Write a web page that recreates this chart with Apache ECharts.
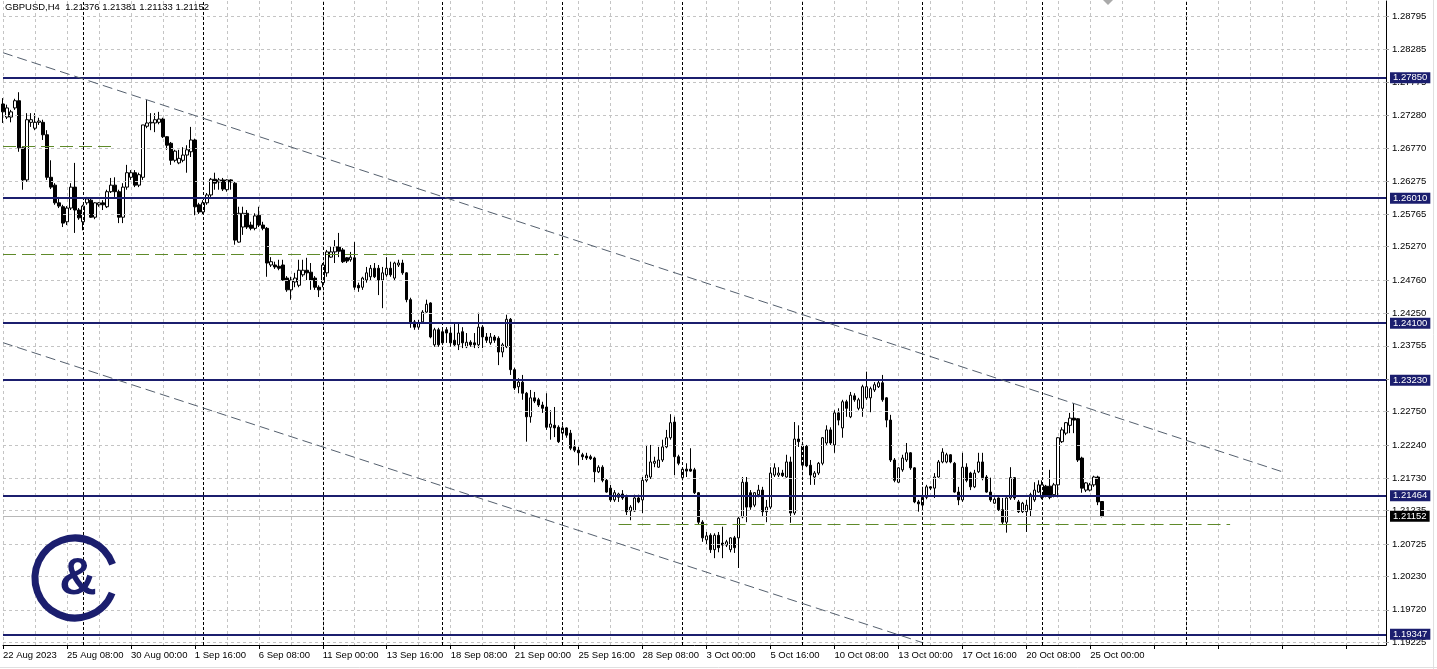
<!DOCTYPE html>
<html><head><meta charset="utf-8">
<script src="https://cdn.jsdelivr.net/npm/echarts@6/dist/echarts.min.js"></script>
<style>html,body{margin:0;padding:0;background:#fff;overflow:hidden}#c{width:1437px;height:669px}</style>
</head><body><div id="c"></div>
<script>
const headerText = 'GBPUSD,H4  1.21376 1.21381 1.21133 1.21152';
const xTickLabels = ['22 Aug 2023','25 Aug 08:00','30 Aug 00:00','1 Sep 16:00','6 Sep 08:00','11 Sep 00:00','13 Sep 16:00','18 Sep 08:00','21 Sep 00:00','25 Sep 16:00','28 Sep 08:00','3 Oct 00:00','5 Oct 16:00','10 Oct 08:00','13 Oct 00:00','17 Oct 16:00','20 Oct 08:00','25 Oct 00:00'];
const yTicks = [1.28795,1.28285,1.27775,1.27280,1.26770,1.26275,1.25765,1.25270,1.24760,1.24250,1.23755,1.23245,1.22750,1.22240,1.21730,1.21235,1.20725,1.20230,1.19720,1.19225];
const openP = [1.2745,1.2725,1.2725,1.2739,1.2750,1.2678,1.2629,1.2717,1.2708,1.2717,1.2717,1.2698,1.2633,1.2621,1.2594,1.2588,1.2565,1.2586,1.2618,1.2583,
1.2565,1.2594,1.2598,1.2572,1.2591,1.2594,1.2588,1.2611,1.2621,1.2611,1.2572,1.2618,1.2633,1.2640,1.2621,1.2633,1.2711,1.2716,1.2716,1.2717,
1.2722,1.2695,1.2685,1.2659,1.2655,1.2659,1.2667,1.2672,1.2690,1.2591,1.2580,1.2594,1.2606,1.2630,1.2626,1.2629,1.2614,1.2629,1.2624,1.2534,
1.2557,1.2578,1.2560,1.2555,1.2575,1.2560,1.2555,1.2499,1.2499,1.2497,1.2499,1.2479,1.2461,1.2473,1.2468,1.2484,1.2491,1.2488,1.2479,1.2465,
1.2472,1.2487,1.2511,1.2519,1.2527,1.2522,1.2510,1.2507,1.2510,1.2468,1.2465,1.2476,1.2481,1.2494,1.2494,1.2476,1.2484,1.2494,1.2479,1.2499,
1.2502,1.2487,1.2446,1.2412,1.2404,1.2412,1.2427,1.2441,1.2377,1.2400,1.2397,1.2400,1.2395,1.2384,1.2377,1.2397,1.2374,1.2381,1.2380,1.2377,
1.2404,1.2389,1.2380,1.2389,1.2387,1.2366,1.2374,1.2416,1.2339,1.2313,1.2320,1.2303,1.2267,1.2296,1.2293,1.2285,1.2282,1.2251,1.2254,1.2251,
1.2242,1.2250,1.2242,1.2221,1.2216,1.2209,1.2207,1.2206,1.2204,1.2183,1.2190,1.2170,1.2158,1.2140,1.2144,1.2149,1.2144,1.2123,1.2123,1.2143,
1.2140,1.2170,1.2175,1.2196,1.2190,1.2201,1.2221,1.2235,1.2259,1.2206,1.2174,1.2187,1.2187,1.2186,1.2151,1.2106,1.2079,1.2086,1.2064,1.2086,
1.2074,1.2071,1.2064,1.2082,1.2082,1.2114,1.2167,1.2151,1.2132,1.2148,1.2155,1.2122,1.2129,1.2178,1.2178,1.2181,1.2175,1.2198,1.2120,1.2233,
1.2193,1.2222,1.2193,1.2175,1.2181,1.2196,1.2227,1.2247,1.2224,1.2273,1.2250,1.2290,1.2267,1.2299,1.2280,1.2280,1.2296,1.2296,1.2308,1.2313,
1.2319,1.2296,1.2262,1.2201,1.2167,1.2186,1.2201,1.2212,1.2189,1.2137,1.2132,1.2144,1.2160,1.2158,1.2175,1.2198,1.2198,1.2209,1.2196,1.2152,
1.2140,1.2190,1.2181,1.2160,1.2183,1.2198,1.2175,1.2152,1.2135,1.2143,1.2125,1.2106,1.2143,1.2174,1.2137,1.2122,1.2122,1.2125,1.2140,1.2152,
1.2144,1.2161,1.2161,1.2148,1.2163,1.2229,1.2242,1.2254,1.2265,1.2264,1.2204,1.2155,1.2155,1.2163,1.2175,1.21376];
const highP = [1.2754,1.2744,1.2736,1.2753,1.2763,1.2679,1.2731,1.2731,1.2731,1.2724,1.2721,1.2705,1.2659,1.2624,1.2603,1.2591,1.2589,1.2624,1.2655,1.2586,
1.2591,1.2603,1.2601,1.2595,1.2595,1.2598,1.2614,1.2632,1.2633,1.2614,1.2624,1.2652,1.2644,1.2644,1.2640,1.2713,1.2751,1.2731,1.2731,1.2733,
1.2724,1.2696,1.2687,1.2675,1.2675,1.2679,1.2682,1.2710,1.2692,1.2594,1.2598,1.2609,1.2632,1.2640,1.2632,1.2632,1.2630,1.2630,1.2626,1.2588,
1.2588,1.2583,1.2565,1.2578,1.2588,1.2565,1.2557,1.2511,1.2504,1.2507,1.2507,1.2482,1.2481,1.2487,1.2507,1.2507,1.2510,1.2502,1.2482,1.2468,
1.2502,1.2522,1.2527,1.2537,1.2548,1.2525,1.2511,1.2519,1.2534,1.2472,1.2481,1.2496,1.2499,1.2502,1.2499,1.2496,1.2511,1.2504,1.2504,1.2507,
1.2507,1.2488,1.2449,1.2415,1.2415,1.2430,1.2446,1.2442,1.2403,1.2403,1.2403,1.2404,1.2404,1.2410,1.2410,1.2404,1.2395,1.2384,1.2395,1.2426,
1.2407,1.2395,1.2395,1.2392,1.2390,1.2380,1.2423,1.2418,1.2342,1.2326,1.2331,1.2305,1.2308,1.2305,1.2296,1.2290,1.2303,1.2277,1.2282,1.2254,
1.2254,1.2251,1.2247,1.2232,1.2221,1.2212,1.2212,1.2209,1.2206,1.2193,1.2193,1.2172,1.2163,1.2155,1.2151,1.2155,1.2148,1.2132,1.2148,1.2148,
1.2175,1.2224,1.2224,1.2206,1.2221,1.2232,1.2247,1.2271,1.2267,1.2209,1.2190,1.2196,1.2219,1.2189,1.2152,1.2109,1.2091,1.2089,1.2089,1.2091,
1.2099,1.2079,1.2083,1.2085,1.2114,1.2175,1.2175,1.2155,1.2152,1.2163,1.2160,1.2140,1.2190,1.2196,1.2190,1.2186,1.2209,1.2206,1.2259,1.2254,
1.2227,1.2224,1.2201,1.2184,1.2198,1.2236,1.2254,1.2251,1.2277,1.2280,1.2293,1.2293,1.2305,1.2303,1.2296,1.2316,1.2336,1.2313,1.2320,1.2323,
1.2331,1.2297,1.2270,1.2204,1.2190,1.2209,1.2227,1.2213,1.2190,1.2140,1.2160,1.2163,1.2161,1.2181,1.2201,1.2219,1.2212,1.2210,1.2198,1.2160,
1.2212,1.2196,1.2183,1.2186,1.2212,1.2212,1.2178,1.2174,1.2144,1.2144,1.2143,1.2144,1.2190,1.2175,1.2140,1.2137,1.2140,1.2151,1.2167,1.2170,
1.2170,1.2163,1.2186,1.2166,1.2236,1.2251,1.2259,1.2273,1.2288,1.2265,1.2206,1.2167,1.2166,1.2177,1.2177,1.21381];
const lowP = [1.2716,1.2722,1.2717,1.2736,1.2672,1.2614,1.2626,1.2710,1.2705,1.2713,1.2690,1.2629,1.2615,1.2591,1.2586,1.2557,1.2560,1.2583,1.2548,1.2568,
1.2552,1.2591,1.2571,1.2569,1.2588,1.2583,1.2586,1.2609,1.2603,1.2563,1.2563,1.2614,1.2629,1.2618,1.2618,1.2629,1.2708,1.2705,1.2702,1.2714,
1.2693,1.2675,1.2652,1.2656,1.2653,1.2656,1.2640,1.2664,1.2575,1.2577,1.2577,1.2591,1.2603,1.2614,1.2614,1.2612,1.2611,1.2614,1.2530,1.2533,
1.2545,1.2554,1.2552,1.2552,1.2557,1.2552,1.2481,1.2496,1.2493,1.2491,1.2475,1.2458,1.2446,1.2465,1.2465,1.2481,1.2476,1.2461,1.2461,1.2450,
1.2465,1.2481,1.2510,1.2502,1.2511,1.2502,1.2502,1.2504,1.2461,1.2458,1.2461,1.2472,1.2476,1.2479,1.2453,1.2433,1.2481,1.2481,1.2476,1.2496,
1.2484,1.2442,1.2403,1.2400,1.2400,1.2410,1.2426,1.2387,1.2374,1.2374,1.2377,1.2380,1.2374,1.2374,1.2369,1.2372,1.2372,1.2374,1.2372,1.2372,
1.2372,1.2380,1.2377,1.2380,1.2346,1.2358,1.2372,1.2331,1.2308,1.2303,1.2293,1.2229,1.2258,1.2288,1.2282,1.2273,1.2247,1.2232,1.2236,1.2227,
1.2236,1.2235,1.2216,1.2213,1.2193,1.2201,1.2201,1.2201,1.2167,1.2181,1.2167,1.2151,1.2137,1.2137,1.2137,1.2140,1.2117,1.2109,1.2122,1.2135,
1.2120,1.2167,1.2172,1.2190,1.2189,1.2198,1.2219,1.2232,1.2178,1.2193,1.2170,1.2175,1.2183,1.2149,1.2103,1.2076,1.2071,1.2059,1.2051,1.2060,
1.2051,1.2068,1.2060,1.2059,1.2036,1.2112,1.2106,1.2125,1.2129,1.2144,1.2114,1.2106,1.2126,1.2175,1.2175,1.2175,1.2174,1.2105,1.2117,1.2221,
1.2190,1.2190,1.2163,1.2163,1.2178,1.2193,1.2224,1.2224,1.2212,1.2254,1.2235,1.2267,1.2265,1.2290,1.2277,1.2267,1.2293,1.2274,1.2305,1.2311,
1.2290,1.2251,1.2198,1.2167,1.2166,1.2183,1.2198,1.2186,1.2135,1.2122,1.2129,1.2141,1.2155,1.2143,1.2174,1.2196,1.2196,1.2196,1.2151,1.2132,
1.2137,1.2167,1.2155,1.2158,1.2181,1.2170,1.2151,1.2137,1.2134,1.2123,1.2102,1.2090,1.2140,1.2140,1.2120,1.2120,1.2091,1.2114,1.2137,1.2151,
1.2141,1.2144,1.2141,1.2144,1.2144,1.2227,1.2239,1.2242,1.2242,1.2198,1.2151,1.2152,1.2153,1.2160,1.2132,1.21133];
const closeP = [1.2733,1.2739,1.2733,1.2750,1.2678,1.2629,1.2721,1.2721,1.2717,1.2719,1.2698,1.2633,1.2618,1.2594,1.2589,1.2563,1.2586,1.2618,1.2583,1.2571,
1.2589,1.2600,1.2572,1.2594,1.2594,1.2591,1.2611,1.2621,1.2611,1.2572,1.2618,1.2640,1.2640,1.2621,1.2637,1.2713,1.2716,1.2717,1.2721,1.2722,
1.2695,1.2682,1.2659,1.2673,1.2662,1.2667,1.2675,1.2690,1.2588,1.2580,1.2594,1.2606,1.2630,1.2624,1.2629,1.2615,1.2629,1.2626,1.2537,1.2578,
1.2578,1.2557,1.2555,1.2574,1.2560,1.2555,1.2502,1.2504,1.2496,1.2494,1.2476,1.2461,1.2476,1.2479,1.2491,1.2491,1.2487,1.2476,1.2465,1.2461,
1.2499,1.2519,1.2519,1.2527,1.2520,1.2504,1.2505,1.2511,1.2465,1.2464,1.2479,1.2487,1.2494,1.2481,1.2476,1.2487,1.2494,1.2484,1.2502,1.2502,
1.2487,1.2446,1.2412,1.2404,1.2410,1.2427,1.2439,1.2389,1.2400,1.2377,1.2380,1.2395,1.2380,1.2377,1.2395,1.2380,1.2381,1.2377,1.2377,1.2404,
1.2389,1.2384,1.2389,1.2384,1.2366,1.2377,1.2416,1.2339,1.2311,1.2320,1.2303,1.2267,1.2296,1.2291,1.2285,1.2280,1.2251,1.2256,1.2250,1.2229,
1.2250,1.2239,1.2219,1.2216,1.2212,1.2206,1.2204,1.2203,1.2183,1.2190,1.2170,1.2152,1.2140,1.2151,1.2149,1.2143,1.2122,1.2129,1.2143,1.2137,
1.2170,1.2178,1.2198,1.2199,1.2201,1.2221,1.2235,1.2258,1.2206,1.2196,1.2187,1.2184,1.2184,1.2151,1.2106,1.2082,1.2085,1.2064,1.2086,1.2067,
1.2071,1.2076,1.2082,1.2067,1.2112,1.2167,1.2129,1.2129,1.2151,1.2155,1.2122,1.2129,1.2181,1.2189,1.2181,1.2177,1.2198,1.2120,1.2233,1.2229,
1.2224,1.2192,1.2178,1.2181,1.2196,1.2235,1.2247,1.2227,1.2273,1.2262,1.2290,1.2280,1.2300,1.2293,1.2293,1.2313,1.2313,1.2310,1.2316,1.2319,
1.2293,1.2262,1.2201,1.2170,1.2189,1.2204,1.2212,1.2189,1.2137,1.2134,1.2144,1.2160,1.2158,1.2175,1.2198,1.2213,1.2209,1.2198,1.2152,1.2140,
1.2190,1.2170,1.2160,1.2181,1.2198,1.2174,1.2152,1.2140,1.2141,1.2125,1.2106,1.2143,1.2174,1.2143,1.2122,1.2135,1.2132,1.2148,1.2155,1.2163,
1.2163,1.2146,1.2144,1.2163,1.2235,1.2247,1.2258,1.2265,1.2262,1.2201,1.2158,1.2166,1.2163,1.2175,1.2137,1.21152];
const levels = [1.27850,1.26010,1.24100,1.23230,1.21464,1.19347];
const currentPrice = 1.21152;
const weekStarts = [20,50,80,110,140,170,200,230,260];
const markerLines = [296];
const greenLevels = [[1.26808,0,28],[1.25158,0,139],[1.21032,154,307]];
const trendUpper = [[0,1.28234],[320,1.21831]];
const trendLower = [[0,1.23803],[230,1.19220]];
const slotCount = 347;

const FONT = '"Liberation Sans", Arial, sans-serif';
const NAVY = '#1b1e6e';
const cats = Array.from({length: slotCount}, (_, i) => String(i));
const candles = openP.map((o, i) => [o, closeP[i], lowP[i], highP[i]]);

const chart = echarts.init(document.getElementById('c'), null, {renderer: 'canvas'});
const noSym = ['none', 'none'];
chart.setOption({
  animation: false,
  backgroundColor: '#fff',
  grid: {left: 2, right: 51, top: 1, bottom: 24},
  xAxis: {
    type: 'category', data: cats, boundaryGap: false,
    axisLine: {show: true, lineStyle: {color: '#000', width: 1}},
    axisTick: {show: true, interval: 15, length: 4, lineStyle: {color: '#000'}},
    axisLabel: {interval: 15, align: 'left', margin: 5, color: '#000', fontSize: 9.5, fontFamily: FONT,
      formatter: (v, idx) => { const k = +v; return (k % 16 === 0 && xTickLabels[k / 16]) ? xTickLabels[k / 16] : ''; }},
    splitLine: {show: true, interval: 7, lineStyle: {color: '#c4c4c4', type: [3, 3], width: 1}}
  },
  yAxis: {
    type: 'value', position: 'right', min: 1.19183, max: 1.29024, scale: true,
    axisLine: {show: true, lineStyle: {color: '#000'}},
    axisTick: {show: true, customValues: yTicks, length: 3, lineStyle: {color: '#999'}},
    axisLabel: {customValues: yTicks, formatter: v => v.toFixed(5), color: '#000', fontSize: 9.5, fontFamily: FONT, margin: 6},
    splitLine: {show: false}
  },
  series: [
    {type: 'line', data: [], z: 1, silent: true,
      markLine: {silent: true, symbol: noSym, animation: false, precision: 5, label: {show: false},
        lineStyle: {color: '#c4c4c4', type: [3, 3], width: 1},
        data: yTicks.map(v => ({yAxis: v}))}},
    {type: 'line', data: [], z: 2, silent: true,
      markLine: {silent: true, symbol: noSym, animation: false, precision: 5, label: {show: false},
        lineStyle: {color: '#000', type: [3, 2], width: 1},
        data: weekStarts.concat(markerLines).map(i => ({xAxis: i}))}},
    {type: 'candlestick', data: candles, z: 3, barWidth: 3, clip: false,
      itemStyle: {color: '#fff', color0: '#000', borderColor: '#000', borderColor0: '#000', borderWidth: 1}},
    {type: 'line', data: [], z: 5, silent: true,
      markLine: {silent: true, symbol: noSym, animation: false, precision: 5,
        data: [
          {yAxis: currentPrice, lineStyle: {color: '#b8b8b8', type: 'solid', width: 1},
            label: {show: true, position: 'end', distance: 4, formatter: () => currentPrice.toFixed(5), color: '#fff', backgroundColor: '#000', padding: [1, 3, 0, 3], fontSize: 9.5, fontFamily: FONT}},
          ...levels.map(v => ({yAxis: v, lineStyle: {color: NAVY, type: 'solid', width: 2},
            label: {show: true, position: 'end', distance: 4, formatter: () => v.toFixed(5), color: '#fff', backgroundColor: NAVY, padding: [1, 3, 0, 3], fontSize: 9.5, fontFamily: FONT}})),
          ...greenLevels.map(g => [{coord: [g[1], g[0]], lineStyle: {color: '#5f8a2a', type: [13, 6], width: 1}, label: {show: false}}, {coord: [g[2], g[0]]}]),
          [{coord: trendUpper[0], lineStyle: {color: '#55606e', type: [10, 5], width: 1}, label: {show: false}}, {coord: trendUpper[1]}],
          [{coord: trendLower[0], lineStyle: {color: '#55606e', type: [10, 5], width: 1}, label: {show: false}}, {coord: trendLower[1]}]
        ]}}
  ],
  graphic: [
    {type: 'text', left: 5, top: 2, style: {text: headerText, font: '9.5px ' + FONT, fill: '#000'}, z: 10},
    {type: 'polygon', shape: {points: [[1103, 0], [1113, 0], [1108, 5]]}, style: {fill: '#aaa'}, z: 10},
    {type: 'arc', shape: {cx: 75, cy: 578, r: 40, startAngle: -0.35, endAngle: -5.9, clockwise: false}, style: {stroke: NAVY, lineWidth: 7, fill: 'none'}, z: 10},
    {type: 'text', x: 78, y: 580, style: {text: '&', font: 'bold 52px ' + FONT, fill: NAVY, align: 'center', verticalAlign: 'middle'}, z: 10},
    {type: 'line', shape: {x1: 0, y1: 667.5, x2: 1437, y2: 667.5}, style: {stroke: '#e0e0e0', lineWidth: 1}, z: 10},
    {type: 'line', shape: {x1: 1433.5, y1: 0, x2: 1433.5, y2: 669}, style: {stroke: '#e0e0e0', lineWidth: 1}, z: 10}
  ]
});
</script></body></html>
